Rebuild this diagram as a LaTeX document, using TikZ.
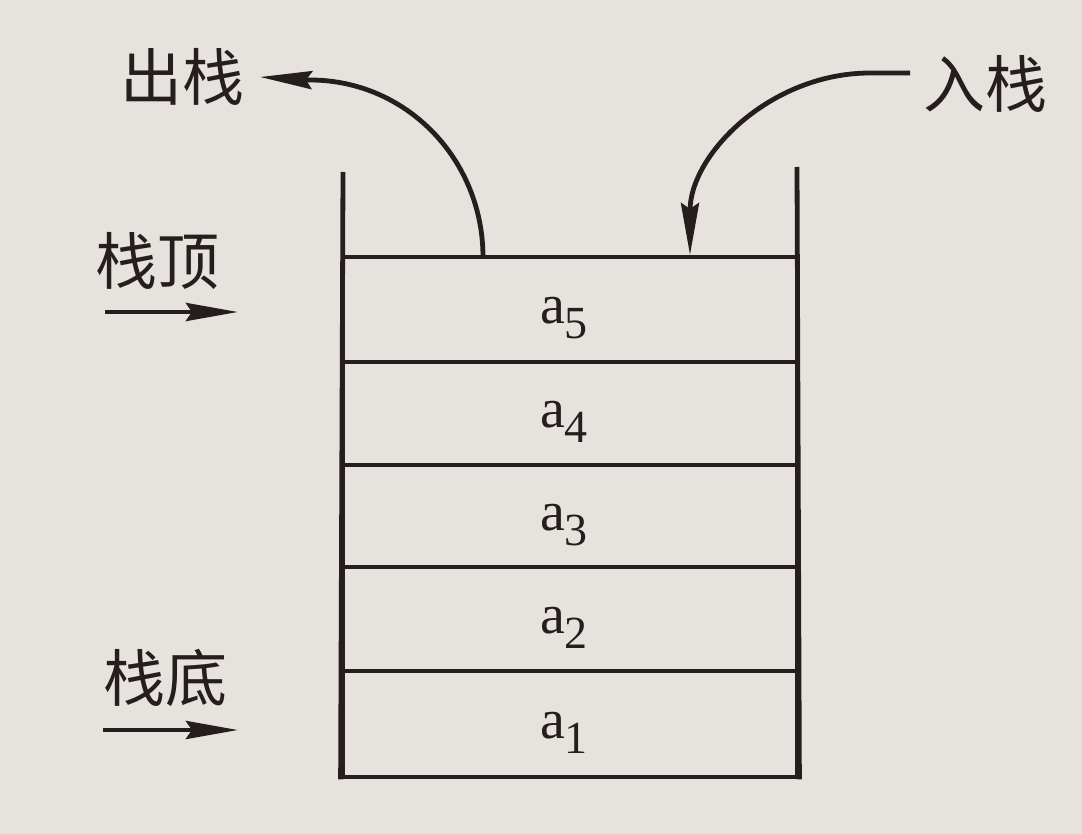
\documentclass[tikz,border=0pt]{standalone}
\usepackage{fontspec}
\setmainfont{Liberation Serif}
\newfontfamily\cjk{Noto Sans CJK SC}
\usetikzlibrary{arrows.meta}
\definecolor{paper}{RGB}{230,226,222}
\definecolor{ink}{RGB}{38,30,28}
\newcommand\elemtext[1]{{\fontsize{56}{56}\selectfont a}\raisebox{-15pt}{\fontsize{46}{46}\selectfont #1}}
\begin{document}
\begin{tikzpicture}[x=1pt,y=-1pt,
  wall/.style={draw=ink, line width=4.8pt},
  cell/.style={draw=ink, line width=4.8pt, rectangle, inner sep=0pt, minimum width=454pt},
  elem/.style={text=ink, inner sep=0pt, anchor=base},
  cn/.style={text=ink, inner sep=0pt, font=\cjk\fontsize{62}{62}\selectfont},
  conn/.style={draw=ink, line width=4.8pt, -{Stealth[length=52pt,width=18pt,inset=6pt]}}
]
\useasboundingbox (0,0) rectangle (1082,834);
\fill[paper] (0,0) rectangle (1082,834);

% cells
\node[cell, minimum height=105pt] (c5) at (570,309.5) {};
\node[cell, minimum height=103pt] (c4) at (570,413.5) {};
\node[cell, minimum height=102pt] (c3) at (570,516) {};
\node[cell, minimum height=104pt] (c2) at (570,619) {};
\node[cell, minimum height=106pt] (c1) at (570,724) {};

\node[elem] (e5) at ([xshift=-6pt,yshift=-14pt]c5.center) {\elemtext{5}};
\node[elem] (e4) at ([xshift=-6pt,yshift=-14pt]c4.center) {\elemtext{4}};
\node[elem] (e3) at ([xshift=-6pt,yshift=-14pt]c3.center) {\elemtext{3}};
\node[elem] (e2) at ([xshift=-6pt,yshift=-14pt]c2.center) {\elemtext{2}};
\node[elem] (e1) at ([xshift=-6pt,yshift=-14pt]c1.center) {\elemtext{1}};

% walls
\coordinate (lt) at (343,172);
\coordinate (rt) at (797,167);
\draw[wall] (lt) -- (c1.south west);
\draw[wall] (rt) -- (c1.south east);

% labels
\node[cn, outer sep=16pt] (out) at (182,77) {出栈};
\node[cn, outer sep=13pt] (in) at (985,84) {入栈};
\node[cn] (top) at (157,261) {栈顶};
\node[cn] (bot) at (165,678) {栈底};

% push / pop arrows
\coordinate (pop) at (483,257);
\coordinate (push) at (690,255);
\draw[conn] (pop) .. controls (483,160) and (407,80) .. (310,80) -- (out.east);
\draw[conn] ([yshift=11pt]in.west) -- (870,73) .. controls (771,73) and (690,154) .. (push);

% pointer arrows
\coordinate (topa) at (105,312);
\coordinate (topb) at (238,312);
\coordinate (bota) at (103,730);
\coordinate (botb) at (238,730);
\draw[conn] (topa) -- (topb);
\draw[conn] (bota) -- (botb);
\end{tikzpicture}
\end{document}
